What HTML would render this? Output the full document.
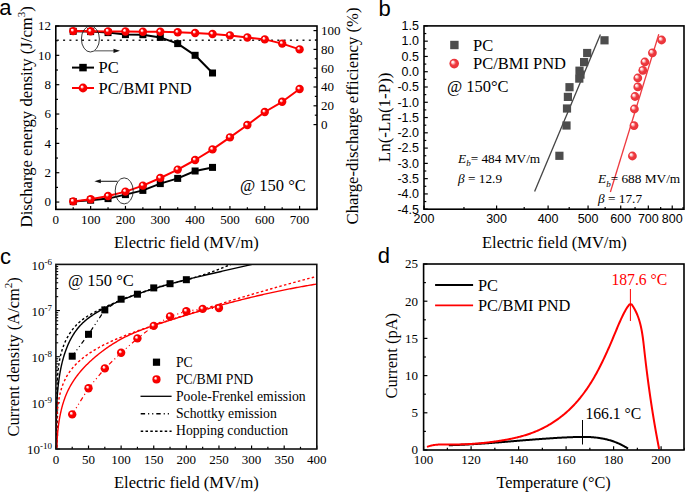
<!DOCTYPE html>
<html><head><meta charset="utf-8"><style>
html,body{margin:0;padding:0;background:#fff;}
svg{display:block;}
</style></head><body>
<svg width="685" height="492" viewBox="0 0 685 492">
<rect width="685" height="492" fill="#fff"/>
<defs>
<radialGradient id="ballA" cx="0.5" cy="0.5" r="0.5" fx="0.34" fy="0.32"><stop offset="0" stop-color="#ffffff"/><stop offset="0.18" stop-color="#ffe4e4"/><stop offset="0.44" stop-color="#ff0000"/><stop offset="1" stop-color="#f00000"/></radialGradient>
<radialGradient id="ballB" cx="0.5" cy="0.5" r="0.5" fx="0.3" fy="0.3"><stop offset="0" stop-color="#ffffff"/><stop offset="0.2" stop-color="#ffe4e4"/><stop offset="0.55" stop-color="#ef3a40"/><stop offset="1" stop-color="#e83238"/></radialGradient>
</defs>
<text x="-0.8" y="14.5" font-size="22" text-anchor="start" font-family="'Liberation Sans', sans-serif" fill="#000" >a</text>
<line x1="55.8" y1="202.06" x2="59.3" y2="202.06" stroke="#000" stroke-width="1.2" />
<line x1="55.8" y1="187.39" x2="58" y2="187.39" stroke="#000" stroke-width="1.2" />
<line x1="55.8" y1="172.72" x2="59.3" y2="172.72" stroke="#000" stroke-width="1.2" />
<line x1="55.8" y1="158.05" x2="58" y2="158.05" stroke="#000" stroke-width="1.2" />
<line x1="55.8" y1="143.38" x2="59.3" y2="143.38" stroke="#000" stroke-width="1.2" />
<line x1="55.8" y1="128.7" x2="58" y2="128.7" stroke="#000" stroke-width="1.2" />
<line x1="55.8" y1="114.03" x2="59.3" y2="114.03" stroke="#000" stroke-width="1.2" />
<line x1="55.8" y1="99.36" x2="58" y2="99.36" stroke="#000" stroke-width="1.2" />
<line x1="55.8" y1="84.69" x2="59.3" y2="84.69" stroke="#000" stroke-width="1.2" />
<line x1="55.8" y1="70.02" x2="58" y2="70.02" stroke="#000" stroke-width="1.2" />
<line x1="55.8" y1="55.34" x2="59.3" y2="55.34" stroke="#000" stroke-width="1.2" />
<line x1="55.8" y1="40.67" x2="58" y2="40.67" stroke="#000" stroke-width="1.2" />
<line x1="55.8" y1="26" x2="59.3" y2="26" stroke="#000" stroke-width="1.2" />
<text x="51" y="206.46" font-size="13" text-anchor="end" font-family="'Liberation Serif', serif" fill="#000" >0</text>
<text x="51" y="177.12" font-size="13" text-anchor="end" font-family="'Liberation Serif', serif" fill="#000" >2</text>
<text x="51" y="147.78" font-size="13" text-anchor="end" font-family="'Liberation Serif', serif" fill="#000" >4</text>
<text x="51" y="118.43" font-size="13" text-anchor="end" font-family="'Liberation Serif', serif" fill="#000" >6</text>
<text x="51" y="89.09" font-size="13" text-anchor="end" font-family="'Liberation Serif', serif" fill="#000" >8</text>
<text x="51" y="59.74" font-size="13" text-anchor="end" font-family="'Liberation Serif', serif" fill="#000" >10</text>
<text x="51" y="30.4" font-size="13" text-anchor="end" font-family="'Liberation Serif', serif" fill="#000" >12</text>
<line x1="55.8" y1="209.4" x2="55.8" y2="205.9" stroke="#000" stroke-width="1.2" />
<line x1="73.21" y1="209.4" x2="73.21" y2="207.2" stroke="#000" stroke-width="1.2" />
<line x1="90.63" y1="209.4" x2="90.63" y2="205.9" stroke="#000" stroke-width="1.2" />
<line x1="108.04" y1="209.4" x2="108.04" y2="207.2" stroke="#000" stroke-width="1.2" />
<line x1="125.45" y1="209.4" x2="125.45" y2="205.9" stroke="#000" stroke-width="1.2" />
<line x1="142.87" y1="209.4" x2="142.87" y2="207.2" stroke="#000" stroke-width="1.2" />
<line x1="160.28" y1="209.4" x2="160.28" y2="205.9" stroke="#000" stroke-width="1.2" />
<line x1="177.69" y1="209.4" x2="177.69" y2="207.2" stroke="#000" stroke-width="1.2" />
<line x1="195.11" y1="209.4" x2="195.11" y2="205.9" stroke="#000" stroke-width="1.2" />
<line x1="212.52" y1="209.4" x2="212.52" y2="207.2" stroke="#000" stroke-width="1.2" />
<line x1="229.93" y1="209.4" x2="229.93" y2="205.9" stroke="#000" stroke-width="1.2" />
<line x1="247.35" y1="209.4" x2="247.35" y2="207.2" stroke="#000" stroke-width="1.2" />
<line x1="264.76" y1="209.4" x2="264.76" y2="205.9" stroke="#000" stroke-width="1.2" />
<line x1="282.17" y1="209.4" x2="282.17" y2="207.2" stroke="#000" stroke-width="1.2" />
<line x1="299.59" y1="209.4" x2="299.59" y2="205.9" stroke="#000" stroke-width="1.2" />
<line x1="317" y1="209.4" x2="317" y2="207.2" stroke="#000" stroke-width="1.2" />
<text x="55.8" y="223.5" font-size="13" text-anchor="middle" font-family="'Liberation Serif', serif" fill="#000" >0</text>
<text x="90.63" y="223.5" font-size="13" text-anchor="middle" font-family="'Liberation Serif', serif" fill="#000" >100</text>
<text x="125.45" y="223.5" font-size="13" text-anchor="middle" font-family="'Liberation Serif', serif" fill="#000" >200</text>
<text x="160.28" y="223.5" font-size="13" text-anchor="middle" font-family="'Liberation Serif', serif" fill="#000" >300</text>
<text x="195.11" y="223.5" font-size="13" text-anchor="middle" font-family="'Liberation Serif', serif" fill="#000" >400</text>
<text x="229.93" y="223.5" font-size="13" text-anchor="middle" font-family="'Liberation Serif', serif" fill="#000" >500</text>
<text x="264.76" y="223.5" font-size="13" text-anchor="middle" font-family="'Liberation Serif', serif" fill="#000" >600</text>
<text x="299.59" y="223.5" font-size="13" text-anchor="middle" font-family="'Liberation Serif', serif" fill="#000" >700</text>
<line x1="317" y1="124.6" x2="313.5" y2="124.6" stroke="#000" stroke-width="1.2" />
<line x1="317" y1="115.2" x2="314.8" y2="115.2" stroke="#000" stroke-width="1.2" />
<line x1="317" y1="105.8" x2="313.5" y2="105.8" stroke="#000" stroke-width="1.2" />
<line x1="317" y1="96.4" x2="314.8" y2="96.4" stroke="#000" stroke-width="1.2" />
<line x1="317" y1="87" x2="313.5" y2="87" stroke="#000" stroke-width="1.2" />
<line x1="317" y1="77.6" x2="314.8" y2="77.6" stroke="#000" stroke-width="1.2" />
<line x1="317" y1="68.2" x2="313.5" y2="68.2" stroke="#000" stroke-width="1.2" />
<line x1="317" y1="58.8" x2="314.8" y2="58.8" stroke="#000" stroke-width="1.2" />
<line x1="317" y1="49.4" x2="313.5" y2="49.4" stroke="#000" stroke-width="1.2" />
<line x1="317" y1="40" x2="314.8" y2="40" stroke="#000" stroke-width="1.2" />
<line x1="317" y1="30.6" x2="313.5" y2="30.6" stroke="#000" stroke-width="1.2" />
<text x="321" y="129" font-size="13" text-anchor="start" font-family="'Liberation Serif', serif" fill="#000" >0</text>
<text x="321" y="110.2" font-size="13" text-anchor="start" font-family="'Liberation Serif', serif" fill="#000" >20</text>
<text x="321" y="91.4" font-size="13" text-anchor="start" font-family="'Liberation Serif', serif" fill="#000" >40</text>
<text x="321" y="72.6" font-size="13" text-anchor="start" font-family="'Liberation Serif', serif" fill="#000" >60</text>
<text x="321" y="53.8" font-size="13" text-anchor="start" font-family="'Liberation Serif', serif" fill="#000" >80</text>
<text x="321" y="35" font-size="13" text-anchor="start" font-family="'Liberation Serif', serif" fill="#000" >100</text>
<line x1="56.8" y1="40.2" x2="316" y2="40.2" stroke="#222" stroke-width="1.4" stroke-dasharray="2 4.3"/>
<polyline points="73.21,31.3 90.63,31.6 108.04,32.6 125.45,34.6 142.87,34.7 160.28,37.4 177.69,43.6 195.11,55.3 212.52,73" fill="none" stroke="#000" stroke-width="2" stroke-linejoin="round" />
<polyline points="73.21,201.6 90.63,200.2 108.04,198.6 125.45,194.6 142.87,190.4 160.28,183.6 177.69,178.4 195.11,171 212.52,167.4" fill="none" stroke="#000" stroke-width="2" stroke-linejoin="round" />
<rect x="69.71" y="27.8" width="7" height="7" fill="#000"/>
<rect x="87.13" y="28.1" width="7" height="7" fill="#000"/>
<rect x="104.54" y="29.1" width="7" height="7" fill="#000"/>
<rect x="121.95" y="31.1" width="7" height="7" fill="#000"/>
<rect x="139.37" y="31.2" width="7" height="7" fill="#000"/>
<rect x="156.78" y="33.9" width="7" height="7" fill="#000"/>
<rect x="174.19" y="40.1" width="7" height="7" fill="#000"/>
<rect x="191.61" y="51.8" width="7" height="7" fill="#000"/>
<rect x="209.02" y="69.5" width="7" height="7" fill="#000"/>
<rect x="69.71" y="198.1" width="7" height="7" fill="#000"/>
<rect x="87.13" y="196.7" width="7" height="7" fill="#000"/>
<rect x="104.54" y="195.1" width="7" height="7" fill="#000"/>
<rect x="121.95" y="191.1" width="7" height="7" fill="#000"/>
<rect x="139.37" y="186.9" width="7" height="7" fill="#000"/>
<rect x="156.78" y="180.1" width="7" height="7" fill="#000"/>
<rect x="174.19" y="174.9" width="7" height="7" fill="#000"/>
<rect x="191.61" y="167.5" width="7" height="7" fill="#000"/>
<rect x="209.02" y="163.9" width="7" height="7" fill="#000"/>
<polyline points="73.21,31.1 90.63,31.3 108.04,31.4 125.45,31.5 142.87,31.7 160.28,31.8 177.69,32.3 195.11,33 212.52,34 229.93,35.4 247.35,37.5 264.76,39.4 282.17,43.6 299.59,49.4" fill="none" stroke="#ff0000" stroke-width="2" stroke-linejoin="round" />
<polyline points="73.21,201.4 90.63,199.2 108.04,196 125.45,191.6 142.87,185.6 160.28,178 177.69,169.6 195.11,160 212.52,149.4 229.93,137.4 247.35,125 264.76,112 282.17,101.8 299.59,89" fill="none" stroke="#ff0000" stroke-width="2" stroke-linejoin="round" />
<circle cx="73.21" cy="31.1" r="4.2" fill="url(#ballA)"/>
<circle cx="90.63" cy="31.3" r="4.2" fill="url(#ballA)"/>
<circle cx="108.04" cy="31.4" r="4.2" fill="url(#ballA)"/>
<circle cx="125.45" cy="31.5" r="4.2" fill="url(#ballA)"/>
<circle cx="142.87" cy="31.7" r="4.2" fill="url(#ballA)"/>
<circle cx="160.28" cy="31.8" r="4.2" fill="url(#ballA)"/>
<circle cx="177.69" cy="32.3" r="4.2" fill="url(#ballA)"/>
<circle cx="195.11" cy="33" r="4.2" fill="url(#ballA)"/>
<circle cx="212.52" cy="34" r="4.2" fill="url(#ballA)"/>
<circle cx="229.93" cy="35.4" r="4.2" fill="url(#ballA)"/>
<circle cx="247.35" cy="37.5" r="4.2" fill="url(#ballA)"/>
<circle cx="264.76" cy="39.4" r="4.2" fill="url(#ballA)"/>
<circle cx="282.17" cy="43.6" r="4.2" fill="url(#ballA)"/>
<circle cx="299.59" cy="49.4" r="4.2" fill="url(#ballA)"/>
<circle cx="73.21" cy="201.4" r="4.2" fill="url(#ballA)"/>
<circle cx="90.63" cy="199.2" r="4.2" fill="url(#ballA)"/>
<circle cx="108.04" cy="196" r="4.2" fill="url(#ballA)"/>
<circle cx="125.45" cy="191.6" r="4.2" fill="url(#ballA)"/>
<circle cx="142.87" cy="185.6" r="4.2" fill="url(#ballA)"/>
<circle cx="160.28" cy="178" r="4.2" fill="url(#ballA)"/>
<circle cx="177.69" cy="169.6" r="4.2" fill="url(#ballA)"/>
<circle cx="195.11" cy="160" r="4.2" fill="url(#ballA)"/>
<circle cx="212.52" cy="149.4" r="4.2" fill="url(#ballA)"/>
<circle cx="229.93" cy="137.4" r="4.2" fill="url(#ballA)"/>
<circle cx="247.35" cy="125" r="4.2" fill="url(#ballA)"/>
<circle cx="264.76" cy="112" r="4.2" fill="url(#ballA)"/>
<circle cx="282.17" cy="101.8" r="4.2" fill="url(#ballA)"/>
<circle cx="299.59" cy="89" r="4.2" fill="url(#ballA)"/>
<rect x="55.8" y="26" width="261.2" height="183.4" fill="none" stroke="#000" stroke-width="1.6"/>
<ellipse cx="90.4" cy="39" rx="9" ry="13" fill="none" stroke="#222" stroke-width="0.9"/>
<line x1="94" y1="50.8" x2="115" y2="50.8" stroke="#777" stroke-width="1.3" />
<path d="M113.5,48.7 L120,50.8 L113.5,52.9 Z" fill="#111"/>
<ellipse cx="124.2" cy="190.9" rx="9" ry="13" fill="none" stroke="#222" stroke-width="0.9"/>
<line x1="117.5" y1="181.3" x2="99" y2="181.3" stroke="#222" stroke-width="1.1" />
<path d="M100.8,179.3 L94.4,181.3 L100.8,183.3 Z" fill="#111"/>
<line x1="72" y1="67.6" x2="94" y2="67.6" stroke="#000" stroke-width="2" />
<rect x="79.25" y="63.85" width="7.5" height="7.5" fill="#000"/>
<text x="98.5" y="73.5" font-size="16.5" text-anchor="start" font-family="'Liberation Serif', serif" fill="#000"  transform="matrix(1,0,0,1.06,0,-4.41)">PC</text>
<line x1="72" y1="88" x2="94" y2="88" stroke="#ff0000" stroke-width="2" />
<circle cx="83" cy="88" r="4.4" fill="url(#ballA)"/>
<text x="98.5" y="93.7" font-size="16.5" text-anchor="start" font-family="'Liberation Serif', serif" fill="#000"  transform="matrix(1,0,0,1.06,0,-5.62)">PC/BMI PND</text>
<text x="240" y="191" font-size="16.5" text-anchor="start" font-family="'Liberation Serif', serif" fill="#000" >@ 150 °C</text>
<text x="114" y="248.3" font-size="16.5" font-family="'Liberation Serif', serif">Electric field (MV/m)</text>
<text transform="translate(31.5,227.4) rotate(-90)" font-size="16.7" font-family="'Liberation Serif', serif">Discharge energy density (J/cm<tspan font-size="11" dy="-7">3</tspan><tspan dy="7">)</tspan></text>
<text transform="translate(357.8,224.4) rotate(-90)" font-size="16.7" font-family="'Liberation Serif', serif">Charge-discharge efficiency (%)</text>
<text x="378.6" y="16" font-size="22" text-anchor="start" font-family="'Liberation Sans', sans-serif" fill="#000" >b</text>
<line x1="424" y1="25.9" x2="427.8" y2="25.9" stroke="#000" stroke-width="1.2" />
<line x1="424" y1="33.54" x2="426.3" y2="33.54" stroke="#000" stroke-width="1.2" />
<line x1="424" y1="41.17" x2="427.8" y2="41.17" stroke="#000" stroke-width="1.2" />
<line x1="424" y1="48.81" x2="426.3" y2="48.81" stroke="#000" stroke-width="1.2" />
<line x1="424" y1="56.45" x2="427.8" y2="56.45" stroke="#000" stroke-width="1.2" />
<line x1="424" y1="64.09" x2="426.3" y2="64.09" stroke="#000" stroke-width="1.2" />
<line x1="424" y1="71.72" x2="427.8" y2="71.72" stroke="#000" stroke-width="1.2" />
<line x1="424" y1="79.36" x2="426.3" y2="79.36" stroke="#000" stroke-width="1.2" />
<line x1="424" y1="87" x2="427.8" y2="87" stroke="#000" stroke-width="1.2" />
<line x1="424" y1="94.64" x2="426.3" y2="94.64" stroke="#000" stroke-width="1.2" />
<line x1="424" y1="102.28" x2="427.8" y2="102.28" stroke="#000" stroke-width="1.2" />
<line x1="424" y1="109.91" x2="426.3" y2="109.91" stroke="#000" stroke-width="1.2" />
<line x1="424" y1="117.55" x2="427.8" y2="117.55" stroke="#000" stroke-width="1.2" />
<line x1="424" y1="125.19" x2="426.3" y2="125.19" stroke="#000" stroke-width="1.2" />
<line x1="424" y1="132.82" x2="427.8" y2="132.82" stroke="#000" stroke-width="1.2" />
<line x1="424" y1="140.46" x2="426.3" y2="140.46" stroke="#000" stroke-width="1.2" />
<line x1="424" y1="148.1" x2="427.8" y2="148.1" stroke="#000" stroke-width="1.2" />
<line x1="424" y1="155.74" x2="426.3" y2="155.74" stroke="#000" stroke-width="1.2" />
<line x1="424" y1="163.38" x2="427.8" y2="163.38" stroke="#000" stroke-width="1.2" />
<line x1="424" y1="171.01" x2="426.3" y2="171.01" stroke="#000" stroke-width="1.2" />
<line x1="424" y1="178.65" x2="427.8" y2="178.65" stroke="#000" stroke-width="1.2" />
<line x1="424" y1="186.29" x2="426.3" y2="186.29" stroke="#000" stroke-width="1.2" />
<line x1="424" y1="193.93" x2="427.8" y2="193.93" stroke="#000" stroke-width="1.2" />
<line x1="424" y1="201.56" x2="426.3" y2="201.56" stroke="#000" stroke-width="1.2" />
<line x1="424" y1="209.2" x2="427.8" y2="209.2" stroke="#000" stroke-width="1.2" />
<text x="419" y="30.2" font-size="12.5" text-anchor="end" font-family="'Liberation Sans', sans-serif" fill="#000" >1.5</text>
<text x="419" y="45.47" font-size="12.5" text-anchor="end" font-family="'Liberation Sans', sans-serif" fill="#000" >1.0</text>
<text x="419" y="60.75" font-size="12.5" text-anchor="end" font-family="'Liberation Sans', sans-serif" fill="#000" >0.5</text>
<text x="419" y="76.02" font-size="12.5" text-anchor="end" font-family="'Liberation Sans', sans-serif" fill="#000" >0.0</text>
<text x="419" y="91.3" font-size="12.5" text-anchor="end" font-family="'Liberation Sans', sans-serif" fill="#000" >-0.5</text>
<text x="419" y="106.58" font-size="12.5" text-anchor="end" font-family="'Liberation Sans', sans-serif" fill="#000" >-1.0</text>
<text x="419" y="121.85" font-size="12.5" text-anchor="end" font-family="'Liberation Sans', sans-serif" fill="#000" >-1.5</text>
<text x="419" y="137.12" font-size="12.5" text-anchor="end" font-family="'Liberation Sans', sans-serif" fill="#000" >-2.0</text>
<text x="419" y="152.4" font-size="12.5" text-anchor="end" font-family="'Liberation Sans', sans-serif" fill="#000" >-2.5</text>
<text x="419" y="167.68" font-size="12.5" text-anchor="end" font-family="'Liberation Sans', sans-serif" fill="#000" >-3.0</text>
<text x="419" y="182.95" font-size="12.5" text-anchor="end" font-family="'Liberation Sans', sans-serif" fill="#000" >-3.5</text>
<text x="419" y="198.23" font-size="12.5" text-anchor="end" font-family="'Liberation Sans', sans-serif" fill="#000" >-4.0</text>
<text x="419" y="213.5" font-size="12.5" text-anchor="end" font-family="'Liberation Sans', sans-serif" fill="#000" >-4.5</text>
<line x1="424" y1="209.2" x2="424" y2="205.4" stroke="#000" stroke-width="1.2" />
<line x1="463.96" y1="209.2" x2="463.96" y2="206.9" stroke="#000" stroke-width="1.2" />
<line x1="496.6" y1="209.2" x2="496.6" y2="205.4" stroke="#000" stroke-width="1.2" />
<line x1="524.2" y1="209.2" x2="524.2" y2="206.9" stroke="#000" stroke-width="1.2" />
<line x1="548.11" y1="209.2" x2="548.11" y2="205.4" stroke="#000" stroke-width="1.2" />
<line x1="569.2" y1="209.2" x2="569.2" y2="206.9" stroke="#000" stroke-width="1.2" />
<line x1="588.07" y1="209.2" x2="588.07" y2="205.4" stroke="#000" stroke-width="1.2" />
<line x1="605.14" y1="209.2" x2="605.14" y2="206.9" stroke="#000" stroke-width="1.2" />
<line x1="620.72" y1="209.2" x2="620.72" y2="205.4" stroke="#000" stroke-width="1.2" />
<line x1="635.05" y1="209.2" x2="635.05" y2="206.9" stroke="#000" stroke-width="1.2" />
<line x1="648.32" y1="209.2" x2="648.32" y2="205.4" stroke="#000" stroke-width="1.2" />
<line x1="660.67" y1="209.2" x2="660.67" y2="206.9" stroke="#000" stroke-width="1.2" />
<line x1="672.23" y1="209.2" x2="672.23" y2="205.4" stroke="#000" stroke-width="1.2" />
<line x1="683.08" y1="209.2" x2="683.08" y2="206.9" stroke="#000" stroke-width="1.2" />
<text x="424" y="223.2" font-size="12.5" text-anchor="middle" font-family="'Liberation Sans', sans-serif" fill="#000" >200</text>
<text x="496.6" y="223.2" font-size="12.5" text-anchor="middle" font-family="'Liberation Sans', sans-serif" fill="#000" >300</text>
<text x="548.11" y="223.2" font-size="12.5" text-anchor="middle" font-family="'Liberation Sans', sans-serif" fill="#000" >400</text>
<text x="588.07" y="223.2" font-size="12.5" text-anchor="middle" font-family="'Liberation Sans', sans-serif" fill="#000" >500</text>
<text x="620.72" y="223.2" font-size="12.5" text-anchor="middle" font-family="'Liberation Sans', sans-serif" fill="#000" >600</text>
<text x="648.32" y="223.2" font-size="12.5" text-anchor="middle" font-family="'Liberation Sans', sans-serif" fill="#000" >700</text>
<text x="672.23" y="223.2" font-size="12.5" text-anchor="middle" font-family="'Liberation Sans', sans-serif" fill="#000" >800</text>
<line x1="600.4" y1="34.4" x2="534.6" y2="191.6" stroke="#444" stroke-width="1.3" />
<line x1="658.8" y1="34.2" x2="610.4" y2="192" stroke="#ee3a40" stroke-width="1.3" />
<rect x="600.4" y="36.2" width="8.2" height="8.2" fill="#4d4d4d"/>
<rect x="583.1" y="48.9" width="8.2" height="8.2" fill="#4d4d4d"/>
<rect x="580" y="58" width="8.2" height="8.2" fill="#4d4d4d"/>
<rect x="575.4" y="66.6" width="8.2" height="8.2" fill="#4d4d4d"/>
<rect x="576.4" y="70.5" width="8.2" height="8.2" fill="#4d4d4d"/>
<rect x="575.2" y="74.5" width="8.2" height="8.2" fill="#4d4d4d"/>
<rect x="565.4" y="83.1" width="8.2" height="8.2" fill="#4d4d4d"/>
<rect x="563.8" y="92.8" width="8.2" height="8.2" fill="#4d4d4d"/>
<rect x="562.9" y="104.4" width="8.2" height="8.2" fill="#4d4d4d"/>
<rect x="562.4" y="121.4" width="8.2" height="8.2" fill="#4d4d4d"/>
<rect x="555.3" y="151.7" width="8.2" height="8.2" fill="#4d4d4d"/>
<circle cx="661.6" cy="40" r="4.4" fill="url(#ballB)"/>
<circle cx="652.4" cy="52.8" r="4.4" fill="url(#ballB)"/>
<circle cx="644.9" cy="62" r="4.4" fill="url(#ballB)"/>
<circle cx="642.8" cy="70.3" r="4.4" fill="url(#ballB)"/>
<circle cx="637.8" cy="78" r="4.4" fill="url(#ballB)"/>
<circle cx="637.8" cy="86.9" r="4.4" fill="url(#ballB)"/>
<circle cx="635" cy="96.5" r="4.4" fill="url(#ballB)"/>
<circle cx="634.4" cy="109" r="4.4" fill="url(#ballB)"/>
<circle cx="634" cy="125.6" r="4.4" fill="url(#ballB)"/>
<circle cx="632.4" cy="156" r="4.4" fill="url(#ballB)"/>
<rect x="424" y="25.9" width="260" height="183.3" fill="none" stroke="#000" stroke-width="1.6"/>
<rect x="450.2" y="40.8" width="8.4" height="8.4" fill="#4d4d4d"/>
<text x="473" y="50.6" font-size="16.5" text-anchor="start" font-family="'Liberation Serif', serif" fill="#000"  transform="matrix(1,0,0,1.07,0,-3.54)">PC</text>
<circle cx="454.2" cy="63.6" r="4.8" fill="url(#ballB)"/>
<text x="473" y="69.1" font-size="16.5" text-anchor="start" font-family="'Liberation Serif', serif" fill="#000"  transform="matrix(1,0,0,1.07,0,-4.84)">PC/BMI PND</text>
<text x="447" y="92" font-size="16.5" text-anchor="start" font-family="'Liberation Serif', serif" fill="#000"  transform="matrix(1,0,0,1.05,0,-4.6)">@ 150°C</text>
<text x="458" y="162.7" font-size="13.3" font-family="'Liberation Serif', serif"><tspan font-style="italic">E</tspan><tspan font-style="italic" font-size="9" dy="3.6">b</tspan><tspan dy="-3.6">= 484 MV/m</tspan></text>
<text x="458" y="182.7" font-size="13.3" font-family="'Liberation Serif', serif"><tspan font-style="italic">β</tspan> = 12.9</text>
<text x="598" y="183" font-size="13.3" font-family="'Liberation Serif', serif"><tspan font-style="italic">E</tspan><tspan font-style="italic" font-size="9" dy="3.6">b</tspan><tspan dy="-3.6">= 688 MV/m</tspan></text>
<text x="598" y="203" font-size="13.3" font-family="'Liberation Serif', serif"><tspan font-style="italic">β</tspan> = 17.7</text>
<text x="482" y="248.3" font-size="16.5" font-family="'Liberation Serif', serif">Electric field (MV/m)</text>
<text transform="translate(390.3,162.2) rotate(-90)" font-size="17" font-family="'Liberation Serif', serif">Ln(-Ln(1-P))</text>
<text x="0" y="263.8" font-size="22" text-anchor="start" font-family="'Liberation Sans', sans-serif" fill="#000" >c</text>
<line x1="55.9" y1="449" x2="59.9" y2="449" stroke="#000" stroke-width="1.1" />
<line x1="55.9" y1="435.11" x2="58.2" y2="435.11" stroke="#000" stroke-width="1.1" />
<line x1="55.9" y1="426.98" x2="58.2" y2="426.98" stroke="#000" stroke-width="1.1" />
<line x1="55.9" y1="421.21" x2="58.2" y2="421.21" stroke="#000" stroke-width="1.1" />
<line x1="55.9" y1="416.74" x2="58.2" y2="416.74" stroke="#000" stroke-width="1.1" />
<line x1="55.9" y1="413.09" x2="58.2" y2="413.09" stroke="#000" stroke-width="1.1" />
<line x1="55.9" y1="410" x2="58.2" y2="410" stroke="#000" stroke-width="1.1" />
<line x1="55.9" y1="407.32" x2="58.2" y2="407.32" stroke="#000" stroke-width="1.1" />
<line x1="55.9" y1="404.96" x2="58.2" y2="404.96" stroke="#000" stroke-width="1.1" />
<line x1="55.9" y1="402.85" x2="59.9" y2="402.85" stroke="#000" stroke-width="1.1" />
<line x1="55.9" y1="388.96" x2="58.2" y2="388.96" stroke="#000" stroke-width="1.1" />
<line x1="55.9" y1="380.83" x2="58.2" y2="380.83" stroke="#000" stroke-width="1.1" />
<line x1="55.9" y1="375.06" x2="58.2" y2="375.06" stroke="#000" stroke-width="1.1" />
<line x1="55.9" y1="370.59" x2="58.2" y2="370.59" stroke="#000" stroke-width="1.1" />
<line x1="55.9" y1="366.94" x2="58.2" y2="366.94" stroke="#000" stroke-width="1.1" />
<line x1="55.9" y1="363.85" x2="58.2" y2="363.85" stroke="#000" stroke-width="1.1" />
<line x1="55.9" y1="361.17" x2="58.2" y2="361.17" stroke="#000" stroke-width="1.1" />
<line x1="55.9" y1="358.81" x2="58.2" y2="358.81" stroke="#000" stroke-width="1.1" />
<line x1="55.9" y1="356.7" x2="59.9" y2="356.7" stroke="#000" stroke-width="1.1" />
<line x1="55.9" y1="342.81" x2="58.2" y2="342.81" stroke="#000" stroke-width="1.1" />
<line x1="55.9" y1="334.68" x2="58.2" y2="334.68" stroke="#000" stroke-width="1.1" />
<line x1="55.9" y1="328.91" x2="58.2" y2="328.91" stroke="#000" stroke-width="1.1" />
<line x1="55.9" y1="324.44" x2="58.2" y2="324.44" stroke="#000" stroke-width="1.1" />
<line x1="55.9" y1="320.79" x2="58.2" y2="320.79" stroke="#000" stroke-width="1.1" />
<line x1="55.9" y1="317.7" x2="58.2" y2="317.7" stroke="#000" stroke-width="1.1" />
<line x1="55.9" y1="315.02" x2="58.2" y2="315.02" stroke="#000" stroke-width="1.1" />
<line x1="55.9" y1="312.66" x2="58.2" y2="312.66" stroke="#000" stroke-width="1.1" />
<line x1="55.9" y1="310.55" x2="59.9" y2="310.55" stroke="#000" stroke-width="1.1" />
<line x1="55.9" y1="296.66" x2="58.2" y2="296.66" stroke="#000" stroke-width="1.1" />
<line x1="55.9" y1="288.53" x2="58.2" y2="288.53" stroke="#000" stroke-width="1.1" />
<line x1="55.9" y1="282.76" x2="58.2" y2="282.76" stroke="#000" stroke-width="1.1" />
<line x1="55.9" y1="278.29" x2="58.2" y2="278.29" stroke="#000" stroke-width="1.1" />
<line x1="55.9" y1="274.64" x2="58.2" y2="274.64" stroke="#000" stroke-width="1.1" />
<line x1="55.9" y1="271.55" x2="58.2" y2="271.55" stroke="#000" stroke-width="1.1" />
<line x1="55.9" y1="268.87" x2="58.2" y2="268.87" stroke="#000" stroke-width="1.1" />
<line x1="55.9" y1="266.51" x2="58.2" y2="266.51" stroke="#000" stroke-width="1.1" />
<text x="52" y="454.2" font-size="13" text-anchor="end" font-family="'Liberation Serif', serif">10<tspan font-size="9" dy="-4.8">-10</tspan></text>
<text x="52" y="408.05" font-size="13" text-anchor="end" font-family="'Liberation Serif', serif">10<tspan font-size="9" dy="-4.8">-9</tspan></text>
<text x="52" y="361.9" font-size="13" text-anchor="end" font-family="'Liberation Serif', serif">10<tspan font-size="9" dy="-4.8">-8</tspan></text>
<text x="52" y="315.75" font-size="13" text-anchor="end" font-family="'Liberation Serif', serif">10<tspan font-size="9" dy="-4.8">-7</tspan></text>
<text x="52" y="269.6" font-size="13" text-anchor="end" font-family="'Liberation Serif', serif">10<tspan font-size="9" dy="-4.8">-6</tspan></text>
<line x1="55.9" y1="449" x2="55.9" y2="445.5" stroke="#000" stroke-width="1.2" />
<line x1="72.21" y1="449" x2="72.21" y2="446.8" stroke="#000" stroke-width="1.2" />
<line x1="88.51" y1="449" x2="88.51" y2="445.5" stroke="#000" stroke-width="1.2" />
<line x1="104.82" y1="449" x2="104.82" y2="446.8" stroke="#000" stroke-width="1.2" />
<line x1="121.12" y1="449" x2="121.12" y2="445.5" stroke="#000" stroke-width="1.2" />
<line x1="137.43" y1="449" x2="137.43" y2="446.8" stroke="#000" stroke-width="1.2" />
<line x1="153.74" y1="449" x2="153.74" y2="445.5" stroke="#000" stroke-width="1.2" />
<line x1="170.04" y1="449" x2="170.04" y2="446.8" stroke="#000" stroke-width="1.2" />
<line x1="186.35" y1="449" x2="186.35" y2="445.5" stroke="#000" stroke-width="1.2" />
<line x1="202.66" y1="449" x2="202.66" y2="446.8" stroke="#000" stroke-width="1.2" />
<line x1="218.96" y1="449" x2="218.96" y2="445.5" stroke="#000" stroke-width="1.2" />
<line x1="235.27" y1="449" x2="235.27" y2="446.8" stroke="#000" stroke-width="1.2" />
<line x1="251.58" y1="449" x2="251.58" y2="445.5" stroke="#000" stroke-width="1.2" />
<line x1="267.88" y1="449" x2="267.88" y2="446.8" stroke="#000" stroke-width="1.2" />
<line x1="284.19" y1="449" x2="284.19" y2="445.5" stroke="#000" stroke-width="1.2" />
<line x1="300.49" y1="449" x2="300.49" y2="446.8" stroke="#000" stroke-width="1.2" />
<line x1="316.8" y1="449" x2="316.8" y2="445.5" stroke="#000" stroke-width="1.2" />
<text x="55.9" y="463.5" font-size="13" text-anchor="middle" font-family="'Liberation Serif', serif" fill="#000" >0</text>
<text x="88.51" y="463.5" font-size="13" text-anchor="middle" font-family="'Liberation Serif', serif" fill="#000" >50</text>
<text x="121.12" y="463.5" font-size="13" text-anchor="middle" font-family="'Liberation Serif', serif" fill="#000" >100</text>
<text x="153.74" y="463.5" font-size="13" text-anchor="middle" font-family="'Liberation Serif', serif" fill="#000" >150</text>
<text x="186.35" y="463.5" font-size="13" text-anchor="middle" font-family="'Liberation Serif', serif" fill="#000" >200</text>
<text x="218.96" y="463.5" font-size="13" text-anchor="middle" font-family="'Liberation Serif', serif" fill="#000" >250</text>
<text x="251.58" y="463.5" font-size="13" text-anchor="middle" font-family="'Liberation Serif', serif" fill="#000" >300</text>
<text x="284.19" y="463.5" font-size="13" text-anchor="middle" font-family="'Liberation Serif', serif" fill="#000" >350</text>
<text x="316.8" y="463.5" font-size="13" text-anchor="middle" font-family="'Liberation Serif', serif" fill="#000" >400</text>
<clipPath id="clipC"><rect x="55.9" y="264.4" width="260.9" height="184.6"/></clipPath>
<g clip-path="url(#clipC)">
<path d="M56.77,452.27 L56.74,450.87 L56.70,449.47 L56.66,448.07 L56.63,446.67 L56.60,445.27 L56.57,443.88 L56.54,442.49 L56.51,441.09 L56.48,439.70 L56.46,438.32 L56.44,436.93 L56.42,435.55 L56.40,434.16 L56.39,432.78 L56.38,431.41 L56.37,430.03 L56.36,428.66 L56.36,427.29 L56.35,425.93 L56.36,424.56 L56.36,423.20 L56.37,421.85 L56.38,420.49 L56.39,419.14 L56.41,417.80 L56.43,416.45 L56.46,415.11 L56.48,413.78 L56.52,412.44 L56.55,411.12 L56.59,409.79 L56.64,408.47 L56.68,407.15 L56.74,405.84 L56.79,404.53 L56.85,403.23 L56.92,401.93 L56.99,400.64 L57.06,399.35 L57.14,398.06 L57.23,396.78 L57.32,395.51 L57.41,394.24 L57.51,392.97 L57.62,391.71 L57.73,390.46 L57.84,389.21 L57.96,387.96 L58.09,386.73 L58.22,385.49 L58.36,384.27 L58.50,383.05 L58.66,381.83 L58.81,380.63 L58.97,379.42 L59.14,378.23 L59.32,377.04 L59.50,375.86 L59.69,374.68 L59.88,373.51 L60.08,372.35 L60.29,371.19 L60.51,370.04 L60.73,368.90 L60.96,367.76 L61.20,366.64 L61.44,365.52 L61.69,364.40 L61.95,363.30 L62.22,362.20 L62.49,361.11 L62.77,360.03 L63.06,358.95 L63.36,357.89 L63.67,356.83 L63.98,355.78 L64.30,354.73 L64.63,353.70 L64.97,352.67 L65.32,351.66 L65.68,350.65 L66.04,349.65 L66.42,348.66 L66.80,347.68 L67.19,346.70 L67.59,345.74 L68.00,344.78 L68.42,343.84 L68.85,342.90 L69.29,341.98 L69.73,341.06 L70.19,340.15 L70.66,339.25 L71.13,338.37 L71.62,337.49 L72.12,336.62 L72.62,335.76 L73.14,334.91 L73.67,334.08 L74.20,333.25 L74.75,332.43 L75.31,331.63 L75.88,330.83 L76.46,330.05 L77.05,329.27 L77.65,328.51 L78.27,327.76 L78.89,327.02 L79.53,326.29 L80.17,325.57 L80.83,324.87 L81.50,324.17 L82.18,323.49 L82.87,322.81 L83.58,322.15 L84.29,321.51 L85.02,320.87 L85.76,320.24 L86.50,319.62 L87.26,319.02 L88.03,318.42 L88.81,317.83 L89.59,317.25 L90.39,316.68 L91.19,316.12 L92.00,315.57 L92.82,315.02 L93.64,314.48 L94.47,313.95 L95.31,313.42 L96.16,312.90 L97.01,312.39 L97.86,311.88 L98.73,311.38 L99.59,310.88 L100.46,310.39 L101.34,309.90 L102.22,309.41 L103.10,308.93 L103.99,308.45 L104.88,307.98 L105.78,307.51 L106.68,307.05 L107.58,306.59 L108.49,306.13 L109.40,305.68 L110.32,305.23 L111.24,304.79 L112.16,304.35 L113.09,303.91 L114.02,303.47 L114.96,303.04 L115.89,302.62 L116.83,302.19 L117.78,301.77 L118.73,301.36 L119.68,300.95 L120.64,300.54 L121.59,300.13 L122.56,299.73 L123.52,299.33 L124.49,298.93 L125.46,298.54 L126.44,298.15 L127.41,297.76 L128.39,297.38 L129.38,297.00 L130.37,296.62 L131.36,296.25 L132.35,295.87 L133.34,295.51 L134.34,295.14 L135.34,294.78 L136.35,294.41 L137.35,294.06 L138.36,293.70 L139.37,293.35 L140.39,293.00 L141.40,292.65 L142.42,292.30 L143.45,291.96 L144.47,291.62 L145.50,291.28 L146.52,290.95 L147.56,290.61 L148.59,290.28 L149.62,289.95 L150.66,289.63 L151.70,289.30 L152.74,288.98 L153.79,288.66 L154.83,288.34 L155.88,288.02 L156.93,287.71 L157.98,287.39 L159.03,287.08 L160.09,286.77 L161.15,286.46 L162.20,286.16 L163.26,285.85 L164.33,285.55 L165.39,285.25 L166.46,284.95 L167.52,284.65 L168.59,284.36 L169.66,284.06 L170.73,283.77 L171.81,283.48 L172.88,283.19 L173.96,282.90 L175.03,282.61 L176.11,282.33 L177.19,282.04 L178.28,281.76 L179.36,281.48 L180.44,281.20 L181.53,280.92 L182.61,280.64 L183.70,280.37 L184.79,280.09 L185.88,279.82 L186.97,279.54 L188.06,279.27 L189.16,279.00 L190.25,278.73 L191.35,278.46 L192.44,278.19 L193.54,277.92 L194.64,277.66 L195.74,277.39 L196.84,277.13 L197.94,276.86 L199.04,276.60 L200.14,276.34 L201.24,276.07 L202.35,275.81 L203.45,275.55 L204.55,275.29 L205.66,275.03 L206.77,274.77 L207.87,274.52 L208.98,274.26 L210.09,274.00 L211.19,273.74 L212.30,273.49 L213.41,273.23 L214.52,272.98 L215.63,272.72 L216.74,272.46 L217.85,272.21 L218.96,271.96 L220.07,271.70 L221.18,271.45 L222.29,271.19 L223.40,270.94 L224.51,270.68 L225.62,270.43 L226.73,270.18 L227.84,269.92 L228.95,269.67 L230.06,269.42 L231.17,269.16 L232.28,268.91 L233.39,268.65 L234.50,268.40 L235.61,268.14 L236.72,267.89 L237.83,267.63 L238.94,267.38 L240.05,267.12 L241.16,266.87 L242.27,266.61 L243.38,266.35 L244.48,266.10 L245.59,265.84 L246.70,265.58 L247.80,265.32 L248.91,265.06 L250.01,264.80 L251.12,264.54 L252.22,264.28 L253.32,264.02 L254.42,263.76 L255.53,263.49 L256.63,263.23 L257.73,262.96 L258.82,262.70 L259.92,262.43 L261.02,262.16 L262.12,261.90 L263.21,261.63 L264.31,261.36 L265.40,261.09 L266.49,260.81 L267.58,260.54 L268.67,260.27 L269.76,259.99 L270.85,259.71 L271.94,259.44" fill="none" stroke="#000" stroke-width="1.4"/>
<path d="M56.34,451.94 L56.43,450.75 L56.51,449.56 L56.59,448.36 L56.66,447.15 L56.72,445.93 L56.78,444.71 L56.83,443.49 L56.88,442.26 L56.92,441.02 L56.96,439.78 L56.99,438.54 L57.02,437.29 L57.05,436.03 L57.07,434.78 L57.08,433.51 L57.10,432.25 L57.10,430.98 L57.11,429.71 L57.11,428.43 L57.12,427.16 L57.11,425.88 L57.11,424.60 L57.10,423.31 L57.10,422.03 L57.09,420.74 L57.08,419.45 L57.07,418.16 L57.05,416.87 L57.04,415.58 L57.03,414.29 L57.02,413.00 L57.00,411.71 L56.99,410.42 L56.98,409.13 L56.97,407.84 L56.96,406.55 L56.95,405.26 L56.94,403.98 L56.93,402.69 L56.93,401.41 L56.92,400.13 L56.92,398.85 L56.93,397.58 L56.93,396.30 L56.94,395.03 L56.95,393.77 L56.97,392.51 L56.99,391.25 L57.01,389.99 L57.04,388.74 L57.07,387.49 L57.10,386.25 L57.14,385.01 L57.19,383.78 L57.24,382.55 L57.30,381.33 L57.36,380.12 L57.43,378.91 L57.50,377.70 L57.58,376.51 L57.67,375.32 L57.76,374.13 L57.87,372.96 L57.97,371.79 L58.09,370.62 L58.21,369.47 L58.35,368.32 L58.49,367.19 L58.63,366.06 L58.79,364.94 L58.96,363.82 L59.13,362.72 L59.32,361.63 L59.51,360.54 L59.71,359.47 L59.93,358.41 L60.15,357.35 L60.39,356.31 L60.63,355.28 L60.89,354.25 L61.15,353.24 L61.43,352.24 L61.71,351.24 L62.01,350.26 L62.32,349.29 L62.63,348.33 L62.96,347.38 L63.30,346.44 L63.65,345.51 L64.00,344.59 L64.37,343.68 L64.75,342.78 L65.14,341.89 L65.54,341.02 L65.95,340.15 L66.37,339.29 L66.81,338.45 L67.25,337.61 L67.70,336.79 L68.16,335.97 L68.64,335.17 L69.12,334.37 L69.62,333.59 L70.12,332.82 L70.64,332.06 L71.17,331.31 L71.71,330.57 L72.25,329.84 L72.81,329.12 L73.38,328.41 L73.96,327.71 L74.55,327.03 L75.15,326.35 L75.77,325.68 L76.39,325.03 L77.02,324.39 L77.67,323.75 L78.32,323.13 L78.99,322.52 L79.67,321.92 L80.36,321.33 L81.05,320.75 L81.76,320.18 L82.48,319.62 L83.22,319.08 L83.96,318.54 L84.71,318.01 L85.47,317.50 L86.24,316.99 L87.02,316.49 L87.81,316.00 L88.60,315.52 L89.41,315.04 L90.22,314.57 L91.03,314.11 L91.85,313.66 L92.68,313.20 L93.51,312.76 L94.35,312.32 L95.19,311.88 L96.03,311.44 L96.88,311.01 L97.73,310.59 L98.58,310.16 L99.44,309.74 L100.29,309.32 L101.15,308.90 L102.02,308.48 L102.88,308.07 L103.75,307.66 L104.62,307.25 L105.49,306.84 L106.36,306.44 L107.24,306.04 L108.12,305.64 L109.00,305.24 L109.88,304.84 L110.76,304.45 L111.65,304.06 L112.54,303.67 L113.43,303.29 L114.33,302.90 L115.22,302.52 L116.12,302.14 L117.02,301.77 L117.93,301.39 L118.83,301.02 L119.74,300.65 L120.65,300.28 L121.56,299.91 L122.48,299.55 L123.39,299.19 L124.31,298.83 L125.23,298.47 L126.15,298.12 L127.08,297.76 L128.01,297.41 L128.94,297.07 L129.87,296.72 L130.80,296.38 L131.74,296.03 L132.68,295.69 L133.62,295.36 L134.56,295.02 L135.50,294.69 L136.45,294.36 L137.40,294.03 L138.35,293.70 L139.30,293.38 L140.26,293.05 L141.22,292.73 L142.18,292.41 L143.14,292.10 L144.10,291.78 L145.07,291.47 L146.03,291.16 L147.00,290.85 L147.98,290.55 L148.95,290.24 L149.93,289.94 L150.90,289.64 L151.88,289.34 L152.87,289.05 L153.85,288.75 L154.84,288.46 L155.83,288.17 L156.82,287.89 L157.81,287.60 L158.80,287.31 L159.80,287.03 L160.79,286.75 L161.79,286.47 L162.79,286.19 L163.79,285.91 L164.79,285.64 L165.79,285.36 L166.80,285.09 L167.80,284.81 L168.81,284.54 L169.81,284.27 L170.82,284.00 L171.82,283.72 L172.83,283.45 L173.84,283.18 L174.84,282.91 L175.85,282.64 L176.86,282.37 L177.86,282.10 L178.87,281.83 L179.88,281.55 L180.88,281.28 L181.89,281.01 L182.89,280.74 L183.90,280.46 L184.90,280.19 L185.90,279.91 L186.90,279.63 L187.90,279.36 L188.90,279.08 L189.90,278.80 L190.89,278.51 L191.89,278.23 L192.88,277.94 L193.87,277.66 L194.86,277.37 L195.85,277.08 L196.83,276.79 L197.82,276.49 L198.80,276.19 L199.78,275.90 L200.75,275.59 L201.73,275.29 L202.70,274.98 L203.67,274.67 L204.63,274.36 L205.60,274.05 L206.56,273.73 L207.51,273.41 L208.47,273.08 L209.42,272.76 L210.37,272.43 L211.31,272.09 L212.25,271.76 L213.19,271.42 L214.12,271.07 L215.06,270.73 L215.98,270.38 L216.91,270.03 L217.84,269.67 L218.76,269.32 L219.68,268.96 L220.59,268.60 L221.51,268.23 L222.42,267.87 L223.33,267.50 L224.24,267.13 L225.15,266.76 L226.06,266.39 L226.96,266.02 L227.86,265.64 L228.77,265.27 L229.67,264.89 L230.57,264.51 L231.47,264.14 L232.37,263.76 L233.26,263.38 L234.16,263.00 L235.06,262.62 L235.96,262.24 L236.85,261.86 L237.75,261.47 L238.65,261.09 L239.55,260.71 L240.44,260.33 L241.34,259.95 L242.24,259.57 L243.14,259.20 L244.04,258.82 L244.94,258.44" fill="none" stroke="#000" stroke-width="1.4" stroke-dasharray="2.5 2.3"/>
<path d="M72.21,356.20 L88.51,334.30 L104.82,309.90 L121.12,299.20 L137.43,294.20 L153.74,287.90 L170.04,283.70 L186.35,279.70" fill="none" stroke="#000" stroke-width="1.2" stroke-dasharray="4.4 3 1.1 3 1.1 3"/>
<path d="M56.67,452.17 L56.70,450.77 L56.73,449.37 L56.77,447.98 L56.82,446.60 L56.87,445.22 L56.93,443.85 L56.99,442.48 L57.06,441.12 L57.14,439.77 L57.23,438.43 L57.32,437.09 L57.42,435.76 L57.52,434.44 L57.64,433.12 L57.76,431.81 L57.89,430.51 L58.03,429.22 L58.17,427.93 L58.32,426.66 L58.48,425.39 L58.65,424.13 L58.83,422.87 L59.01,421.63 L59.21,420.39 L59.41,419.16 L59.62,417.94 L59.84,416.73 L60.07,415.53 L60.30,414.34 L60.55,413.16 L60.80,411.98 L61.07,410.82 L61.34,409.66 L61.62,408.51 L61.92,407.38 L62.22,406.25 L62.53,405.13 L62.85,404.02 L63.19,402.93 L63.53,401.84 L63.88,400.76 L64.24,399.69 L64.62,398.64 L65.00,397.59 L65.40,396.56 L65.80,395.53 L66.22,394.52 L66.64,393.51 L67.08,392.52 L67.53,391.54 L67.99,390.57 L68.45,389.61 L68.93,388.66 L69.42,387.71 L69.92,386.78 L70.43,385.86 L70.95,384.95 L71.47,384.05 L72.01,383.15 L72.56,382.27 L73.11,381.39 L73.67,380.53 L74.25,379.67 L74.83,378.82 L75.42,377.98 L76.01,377.15 L76.62,376.32 L77.23,375.51 L77.85,374.70 L78.48,373.90 L79.12,373.11 L79.76,372.32 L80.42,371.54 L81.08,370.77 L81.74,370.01 L82.41,369.25 L83.09,368.50 L83.78,367.76 L84.47,367.02 L85.17,366.29 L85.88,365.57 L86.59,364.85 L87.31,364.14 L88.03,363.43 L88.76,362.73 L89.49,362.03 L90.23,361.34 L90.98,360.66 L91.73,359.98 L92.48,359.30 L93.24,358.63 L94.01,357.97 L94.78,357.31 L95.55,356.65 L96.33,356.00 L97.11,355.35 L97.90,354.71 L98.69,354.07 L99.48,353.44 L100.28,352.81 L101.09,352.18 L101.90,351.56 L102.71,350.95 L103.53,350.34 L104.36,349.73 L105.18,349.13 L106.02,348.53 L106.86,347.94 L107.70,347.36 L108.55,346.78 L109.40,346.20 L110.26,345.63 L111.13,345.06 L112.00,344.50 L112.87,343.95 L113.75,343.40 L114.64,342.85 L115.53,342.31 L116.42,341.78 L117.32,341.25 L118.23,340.73 L119.14,340.21 L120.06,339.70 L120.99,339.19 L121.91,338.69 L122.85,338.20 L123.79,337.71 L124.74,337.23 L125.69,336.75 L126.65,336.28 L127.61,335.82 L128.58,335.36 L129.56,334.90 L130.54,334.45 L131.53,334.01 L132.52,333.57 L133.52,333.14 L134.52,332.71 L135.53,332.29 L136.54,331.87 L137.56,331.46 L138.58,331.05 L139.60,330.65 L140.63,330.24 L141.66,329.85 L142.70,329.45 L143.74,329.06 L144.78,328.68 L145.83,328.30 L146.88,327.92 L147.94,327.54 L148.99,327.17 L150.05,326.80 L151.11,326.43 L152.18,326.06 L153.24,325.70 L154.31,325.34 L155.38,324.98 L156.46,324.62 L157.53,324.27 L158.61,323.91 L159.68,323.56 L160.76,323.21 L161.84,322.86 L162.92,322.51 L164.01,322.17 L165.09,321.82 L166.17,321.47 L167.26,321.13 L168.34,320.78 L169.43,320.44 L170.51,320.09 L171.60,319.75 L172.69,319.41 L173.78,319.07 L174.86,318.72 L175.95,318.38 L177.04,318.04 L178.13,317.70 L179.22,317.37 L180.31,317.03 L181.41,316.69 L182.50,316.35 L183.59,316.02 L184.69,315.68 L185.78,315.35 L186.88,315.01 L187.98,314.68 L189.07,314.35 L190.17,314.01 L191.27,313.68 L192.37,313.35 L193.47,313.02 L194.57,312.69 L195.67,312.37 L196.77,312.04 L197.88,311.71 L198.98,311.39 L200.09,311.06 L201.19,310.74 L202.30,310.42 L203.41,310.09 L204.51,309.77 L205.62,309.45 L206.73,309.13 L207.84,308.81 L208.96,308.49 L210.07,308.18 L211.18,307.86 L212.30,307.55 L213.41,307.23 L214.53,306.92 L215.65,306.61 L216.76,306.29 L217.88,305.98 L219.00,305.67 L220.12,305.36 L221.25,305.06 L222.37,304.75 L223.49,304.44 L224.62,304.14 L225.74,303.84 L226.87,303.53 L228.00,303.23 L229.13,302.93 L230.26,302.63 L231.39,302.33 L232.52,302.04 L233.66,301.74 L234.79,301.44 L235.92,301.15 L237.06,300.86 L238.20,300.56 L239.34,300.27 L240.48,299.98 L241.62,299.69 L242.76,299.41 L243.90,299.12 L245.05,298.83 L246.19,298.55 L247.34,298.27 L248.49,297.99 L249.64,297.71 L250.79,297.43 L251.94,297.15 L253.09,296.87 L254.25,296.59 L255.40,296.32 L256.56,296.05 L257.72,295.77 L258.88,295.50 L260.04,295.23 L261.20,294.97 L262.36,294.70 L263.52,294.43 L264.69,294.17 L265.86,293.91 L267.02,293.64 L268.19,293.38 L269.36,293.12 L270.54,292.87 L271.71,292.61 L272.88,292.36 L274.06,292.10 L275.24,291.85 L276.42,291.60 L277.60,291.35 L278.78,291.10 L279.96,290.85 L281.15,290.61 L282.33,290.36 L283.52,290.12 L284.71,289.88 L285.90,289.64 L287.09,289.40 L288.28,289.17 L289.48,288.93 L290.67,288.70 L291.87,288.47 L293.07,288.23 L294.27,288.01 L295.47,287.78 L296.68,287.55 L297.88,287.33 L299.09,287.10 L300.30,286.88 L301.50,286.66 L302.72,286.44 L303.93,286.23 L305.14,286.01 L306.36,285.80 L307.58,285.59 L308.80,285.38 L310.02,285.17 L311.24,284.96 L312.46,284.75 L313.69,284.55 L314.92,284.35 L316.15,284.15" fill="none" stroke="#ff0000" stroke-width="1.4"/>
<path d="M56.83,452.33 L56.78,450.82 L56.73,449.32 L56.69,447.82 L56.64,446.32 L56.60,444.83 L56.57,443.34 L56.54,441.85 L56.51,440.37 L56.49,438.89 L56.47,437.42 L56.46,435.95 L56.45,434.49 L56.44,433.03 L56.45,431.58 L56.46,430.13 L56.47,428.69 L56.49,427.26 L56.52,425.83 L56.56,424.41 L56.60,423.00 L56.65,421.59 L56.71,420.19 L56.77,418.81 L56.85,417.42 L56.93,416.05 L57.02,414.69 L57.13,413.34 L57.24,411.99 L57.36,410.66 L57.49,409.33 L57.63,408.02 L57.78,406.71 L57.94,405.42 L58.11,404.13 L58.29,402.86 L58.49,401.60 L58.70,400.35 L58.91,399.12 L59.14,397.89 L59.39,396.68 L59.64,395.48 L59.91,394.30 L60.20,393.12 L60.49,391.97 L60.80,390.82 L61.13,389.69 L61.47,388.57 L61.82,387.47 L62.19,386.38 L62.57,385.31 L62.97,384.26 L63.38,383.22 L63.82,382.19 L64.26,381.18 L64.72,380.19 L65.20,379.21 L65.69,378.25 L66.20,377.30 L66.72,376.37 L67.26,375.45 L67.81,374.55 L68.38,373.66 L68.96,372.78 L69.55,371.92 L70.16,371.07 L70.78,370.24 L71.41,369.41 L72.06,368.60 L72.71,367.81 L73.38,367.02 L74.07,366.25 L74.76,365.49 L75.46,364.74 L76.18,364.00 L76.91,363.27 L77.65,362.55 L78.40,361.85 L79.16,361.15 L79.93,360.47 L80.71,359.79 L81.50,359.13 L82.30,358.47 L83.10,357.82 L83.92,357.19 L84.75,356.56 L85.58,355.94 L86.42,355.32 L87.28,354.72 L88.13,354.12 L89.00,353.53 L89.87,352.95 L90.76,352.38 L91.64,351.81 L92.54,351.25 L93.44,350.70 L94.35,350.15 L95.26,349.61 L96.18,349.07 L97.11,348.54 L98.04,348.02 L98.97,347.50 L99.91,346.98 L100.86,346.48 L101.81,345.97 L102.77,345.48 L103.73,344.98 L104.70,344.49 L105.67,344.01 L106.65,343.53 L107.63,343.06 L108.62,342.59 L109.61,342.13 L110.60,341.66 L111.60,341.21 L112.60,340.76 L113.61,340.31 L114.62,339.86 L115.64,339.42 L116.65,338.99 L117.68,338.56 L118.70,338.13 L119.73,337.70 L120.77,337.28 L121.80,336.86 L122.84,336.44 L123.88,336.03 L124.93,335.62 L125.98,335.21 L127.03,334.81 L128.08,334.41 L129.14,334.01 L130.20,333.61 L131.26,333.22 L132.32,332.83 L133.39,332.44 L134.45,332.05 L135.52,331.66 L136.60,331.28 L137.67,330.90 L138.74,330.52 L139.82,330.14 L140.90,329.76 L141.98,329.39 L143.06,329.01 L144.14,328.64 L145.23,328.27 L146.31,327.90 L147.40,327.53 L148.48,327.16 L149.57,326.79 L150.66,326.42 L151.74,326.06 L152.83,325.69 L153.92,325.32 L155.01,324.96 L156.10,324.59 L157.19,324.23 L158.28,323.86 L159.37,323.50 L160.46,323.13 L161.55,322.77 L162.64,322.40 L163.74,322.04 L164.83,321.68 L165.92,321.32 L167.01,320.95 L168.11,320.59 L169.20,320.23 L170.30,319.87 L171.39,319.51 L172.48,319.15 L173.58,318.79 L174.68,318.43 L175.77,318.07 L176.87,317.71 L177.96,317.35 L179.06,316.99 L180.16,316.64 L181.26,316.28 L182.35,315.92 L183.45,315.57 L184.55,315.21 L185.65,314.85 L186.75,314.50 L187.85,314.14 L188.95,313.79 L190.05,313.43 L191.15,313.08 L192.26,312.73 L193.36,312.37 L194.46,312.02 L195.56,311.67 L196.67,311.32 L197.77,310.96 L198.87,310.61 L199.98,310.26 L201.08,309.91 L202.19,309.56 L203.29,309.21 L204.40,308.86 L205.51,308.51 L206.61,308.17 L207.72,307.82 L208.83,307.47 L209.94,307.12 L211.04,306.78 L212.15,306.43 L213.26,306.08 L214.37,305.74 L215.48,305.39 L216.59,305.05 L217.70,304.71 L218.82,304.36 L219.93,304.02 L221.04,303.68 L222.15,303.33 L223.27,302.99 L224.38,302.65 L225.49,302.31 L226.61,301.97 L227.72,301.63 L228.84,301.29 L229.95,300.95 L231.07,300.61 L232.19,300.27 L233.30,299.93 L234.42,299.60 L235.54,299.26 L236.66,298.92 L237.78,298.59 L238.90,298.25 L240.02,297.91 L241.14,297.58 L242.26,297.24 L243.38,296.91 L244.50,296.58 L245.62,296.24 L246.75,295.91 L247.87,295.58 L248.99,295.25 L250.12,294.92 L251.24,294.59 L252.37,294.26 L253.49,293.93 L254.62,293.60 L255.74,293.27 L256.87,292.94 L258.00,292.61 L259.12,292.28 L260.25,291.96 L261.38,291.63 L262.51,291.30 L263.64,290.98 L264.77,290.65 L265.90,290.33 L267.03,290.01 L268.16,289.68 L269.30,289.36 L270.43,289.04 L271.56,288.71 L272.70,288.39 L273.83,288.07 L274.96,287.75 L276.10,287.43 L277.24,287.11 L278.37,286.79 L279.51,286.47 L280.65,286.16 L281.78,285.84 L282.92,285.52 L284.06,285.20 L285.20,284.89 L286.34,284.57 L287.48,284.26 L288.62,283.94 L289.76,283.63 L290.90,283.32 L292.04,283.00 L293.19,282.69 L294.33,282.38 L295.47,282.07 L296.62,281.76 L297.76,281.45 L298.91,281.14 L300.06,280.83 L301.20,280.52 L302.35,280.21 L303.50,279.90 L304.65,279.60 L305.79,279.29 L306.94,278.98 L308.09,278.68 L309.24,278.37 L310.39,278.07 L311.55,277.77 L312.70,277.46 L313.85,277.16 L315.00,276.86 L316.16,276.56" fill="none" stroke="#ff0000" stroke-width="1.4" stroke-dasharray="2.5 2.3"/>
<path d="M72.21,414.40 L88.51,388.20 L104.82,368.40 L121.12,352.80 L137.43,338.40 L153.74,325.90 L170.04,316.40 L186.35,311.20 L202.66,308.90 L218.96,308.00" fill="none" stroke="#ff0000" stroke-width="1.2" stroke-dasharray="4.4 3 1.1 3 1.1 3"/>
</g>
<rect x="68.71" y="352.7" width="7" height="7" fill="#000"/>
<rect x="85.01" y="330.8" width="7" height="7" fill="#000"/>
<rect x="101.32" y="306.4" width="7" height="7" fill="#000"/>
<rect x="117.62" y="295.7" width="7" height="7" fill="#000"/>
<rect x="133.93" y="290.7" width="7" height="7" fill="#000"/>
<rect x="150.24" y="284.4" width="7" height="7" fill="#000"/>
<rect x="166.54" y="280.2" width="7" height="7" fill="#000"/>
<rect x="182.85" y="276.2" width="7" height="7" fill="#000"/>
<circle cx="72.21" cy="414.4" r="4.2" fill="url(#ballA)"/>
<circle cx="88.51" cy="388.2" r="4.2" fill="url(#ballA)"/>
<circle cx="104.82" cy="368.4" r="4.2" fill="url(#ballA)"/>
<circle cx="121.12" cy="352.8" r="4.2" fill="url(#ballA)"/>
<circle cx="137.43" cy="338.4" r="4.2" fill="url(#ballA)"/>
<circle cx="153.74" cy="325.9" r="4.2" fill="url(#ballA)"/>
<circle cx="170.04" cy="316.4" r="4.2" fill="url(#ballA)"/>
<circle cx="186.35" cy="311.2" r="4.2" fill="url(#ballA)"/>
<circle cx="202.66" cy="308.9" r="4.2" fill="url(#ballA)"/>
<circle cx="218.96" cy="308" r="4.2" fill="url(#ballA)"/>
<rect x="55.9" y="264.4" width="260.9" height="184.6" fill="none" stroke="#111" stroke-width="1.6"/>
<text x="68" y="286" font-size="16.5" text-anchor="start" font-family="'Liberation Serif', serif" fill="#000"  transform="matrix(1,0,0,1.05,0,-14.3)">@ 150 °C</text>
<rect x="152.9" y="358.6" width="7.2" height="7.2" fill="#000"/>
<text x="176" y="366.5" font-size="13.7" text-anchor="start" font-family="'Liberation Serif', serif" fill="#000" >PC</text>
<circle cx="156.5" cy="379.4" r="4.1" fill="url(#ballA)"/>
<text x="176" y="384" font-size="13.7" text-anchor="start" font-family="'Liberation Serif', serif" fill="#000" >PC/BMI PND</text>
<line x1="140.5" y1="396.3" x2="171.6" y2="396.3" stroke="#000" stroke-width="1.3" />
<text x="176" y="401" font-size="13.7" text-anchor="start" font-family="'Liberation Serif', serif" fill="#000" >Poole-Frenkel emission</text>
<line x1="140.7" y1="413.7" x2="171.6" y2="413.7" stroke="#000" stroke-width="1.4" stroke-dasharray="4.4 3 1.1 3 1.1 3"/>
<text x="176" y="418.3" font-size="13.7" text-anchor="start" font-family="'Liberation Serif', serif" fill="#000" >Schottky emission</text>
<line x1="140.7" y1="431.2" x2="171.6" y2="431.2" stroke="#000" stroke-width="1.4" stroke-dasharray="2.5 2.3"/>
<text x="176" y="435.1" font-size="13.7" text-anchor="start" font-family="'Liberation Serif', serif" fill="#000" >Hopping conduction</text>
<text x="114" y="488" font-size="16.5" font-family="'Liberation Serif', serif">Electric field (MV/m)</text>
<text transform="translate(18.5,436.6) rotate(-90)" font-size="16.5" font-family="'Liberation Serif', serif">Current density (A/cm<tspan font-size="11" dy="-7">2</tspan><tspan dy="7">)</tspan></text>
<text x="377.8" y="262.5" font-size="22" text-anchor="start" font-family="'Liberation Sans', sans-serif" fill="#000" >d</text>
<line x1="423.6" y1="450" x2="427.4" y2="450" stroke="#000" stroke-width="1.2" />
<line x1="423.6" y1="431.4" x2="425.9" y2="431.4" stroke="#000" stroke-width="1.2" />
<line x1="423.6" y1="412.8" x2="427.4" y2="412.8" stroke="#000" stroke-width="1.2" />
<line x1="423.6" y1="394.2" x2="425.9" y2="394.2" stroke="#000" stroke-width="1.2" />
<line x1="423.6" y1="375.6" x2="427.4" y2="375.6" stroke="#000" stroke-width="1.2" />
<line x1="423.6" y1="357" x2="425.9" y2="357" stroke="#000" stroke-width="1.2" />
<line x1="423.6" y1="338.4" x2="427.4" y2="338.4" stroke="#000" stroke-width="1.2" />
<line x1="423.6" y1="319.8" x2="425.9" y2="319.8" stroke="#000" stroke-width="1.2" />
<line x1="423.6" y1="301.2" x2="427.4" y2="301.2" stroke="#000" stroke-width="1.2" />
<line x1="423.6" y1="282.6" x2="425.9" y2="282.6" stroke="#000" stroke-width="1.2" />
<line x1="423.6" y1="264" x2="427.4" y2="264" stroke="#000" stroke-width="1.2" />
<text x="418" y="454.4" font-size="13" text-anchor="end" font-family="'Liberation Serif', serif" fill="#000" >0</text>
<text x="418" y="417.2" font-size="13" text-anchor="end" font-family="'Liberation Serif', serif" fill="#000" >5</text>
<text x="418" y="380" font-size="13" text-anchor="end" font-family="'Liberation Serif', serif" fill="#000" >10</text>
<text x="418" y="342.8" font-size="13" text-anchor="end" font-family="'Liberation Serif', serif" fill="#000" >15</text>
<text x="418" y="305.6" font-size="13" text-anchor="end" font-family="'Liberation Serif', serif" fill="#000" >20</text>
<text x="418" y="268.4" font-size="13" text-anchor="end" font-family="'Liberation Serif', serif" fill="#000" >25</text>
<line x1="423.6" y1="450" x2="423.6" y2="446.2" stroke="#000" stroke-width="1.2" />
<line x1="447.35" y1="450" x2="447.35" y2="447.7" stroke="#000" stroke-width="1.2" />
<line x1="471.1" y1="450" x2="471.1" y2="446.2" stroke="#000" stroke-width="1.2" />
<line x1="494.85" y1="450" x2="494.85" y2="447.7" stroke="#000" stroke-width="1.2" />
<line x1="518.6" y1="450" x2="518.6" y2="446.2" stroke="#000" stroke-width="1.2" />
<line x1="542.35" y1="450" x2="542.35" y2="447.7" stroke="#000" stroke-width="1.2" />
<line x1="566.1" y1="450" x2="566.1" y2="446.2" stroke="#000" stroke-width="1.2" />
<line x1="589.85" y1="450" x2="589.85" y2="447.7" stroke="#000" stroke-width="1.2" />
<line x1="613.6" y1="450" x2="613.6" y2="446.2" stroke="#000" stroke-width="1.2" />
<line x1="637.35" y1="450" x2="637.35" y2="447.7" stroke="#000" stroke-width="1.2" />
<line x1="661.1" y1="450" x2="661.1" y2="446.2" stroke="#000" stroke-width="1.2" />
<line x1="684.85" y1="450" x2="684.85" y2="447.7" stroke="#000" stroke-width="1.2" />
<text x="423.6" y="463.5" font-size="13" text-anchor="middle" font-family="'Liberation Serif', serif" fill="#000" >100</text>
<text x="471.1" y="463.5" font-size="13" text-anchor="middle" font-family="'Liberation Serif', serif" fill="#000" >120</text>
<text x="518.6" y="463.5" font-size="13" text-anchor="middle" font-family="'Liberation Serif', serif" fill="#000" >140</text>
<text x="566.1" y="463.5" font-size="13" text-anchor="middle" font-family="'Liberation Serif', serif" fill="#000" >160</text>
<text x="613.6" y="463.5" font-size="13" text-anchor="middle" font-family="'Liberation Serif', serif" fill="#000" >180</text>
<text x="661.1" y="463.5" font-size="13" text-anchor="middle" font-family="'Liberation Serif', serif" fill="#000" >200</text>
<path d="M448.80,445.25 L449.55,445.23 L450.30,445.21 L451.05,445.19 L451.80,445.16 L452.55,445.14 L453.30,445.12 L454.05,445.09 L454.80,445.06 L455.55,445.04 L456.30,445.01 L457.05,444.98 L457.80,444.95 L458.55,444.92 L459.30,444.89 L460.05,444.85 L460.80,444.82 L461.55,444.79 L462.30,444.75 L463.05,444.72 L463.80,444.68 L464.55,444.64 L465.30,444.61 L466.05,444.57 L466.80,444.53 L467.55,444.49 L468.30,444.45 L469.05,444.41 L469.80,444.36 L470.55,444.32 L471.30,444.28 L472.05,444.23 L472.80,444.19 L473.55,444.14 L474.30,444.10 L475.05,444.05 L475.80,444.01 L476.55,443.96 L477.30,443.91 L478.05,443.86 L478.80,443.81 L479.55,443.76 L480.30,443.71 L481.05,443.66 L481.80,443.61 L482.55,443.56 L483.30,443.51 L484.05,443.45 L484.80,443.40 L485.55,443.35 L486.30,443.29 L487.05,443.24 L487.80,443.19 L488.55,443.13 L489.30,443.07 L490.05,443.02 L490.80,442.96 L491.55,442.91 L492.30,442.85 L493.05,442.79 L493.80,442.73 L494.55,442.68 L495.30,442.62 L496.05,442.56 L496.80,442.50 L497.55,442.44 L498.30,442.38 L499.05,442.32 L499.80,442.27 L500.55,442.21 L501.30,442.15 L502.05,442.09 L502.80,442.02 L503.55,441.96 L504.30,441.90 L505.05,441.84 L505.80,441.78 L506.55,441.72 L507.30,441.66 L508.05,441.60 L508.80,441.54 L509.55,441.47 L510.30,441.41 L511.05,441.35 L511.80,441.29 L512.55,441.23 L513.30,441.17 L514.05,441.10 L514.80,441.04 L515.55,440.98 L516.30,440.92 L517.05,440.86 L517.80,440.80 L518.55,440.73 L519.30,440.67 L520.05,440.61 L520.80,440.55 L521.55,440.49 L522.30,440.43 L523.05,440.37 L523.80,440.30 L524.55,440.24 L525.30,440.18 L526.05,440.12 L526.80,440.06 L527.55,440.00 L528.30,439.94 L529.05,439.88 L529.80,439.82 L530.55,439.76 L531.30,439.70 L532.05,439.64 L532.80,439.59 L533.55,439.53 L534.30,439.47 L535.05,439.41 L535.80,439.35 L536.55,439.30 L537.30,439.24 L538.05,439.18 L538.80,439.13 L539.55,439.07 L540.30,439.02 L541.05,438.96 L541.80,438.91 L542.55,438.85 L543.30,438.80 L544.05,438.74 L544.80,438.69 L545.55,438.64 L546.30,438.59 L547.05,438.53 L547.80,438.48 L548.55,438.43 L549.30,438.38 L550.05,438.33 L550.80,438.28 L551.55,438.23 L552.30,438.19 L553.05,438.14 L553.80,438.09 L554.55,438.04 L555.30,438.00 L556.05,437.95 L556.80,437.91 L557.55,437.86 L558.30,437.82 L559.05,437.78 L559.80,437.74 L560.55,437.69 L561.30,437.65 L562.05,437.61 L562.80,437.57 L563.55,437.54 L564.30,437.50 L565.05,437.46 L565.80,437.42 L566.55,437.39 L567.30,437.35 L568.05,437.32 L568.80,437.29 L569.55,437.25 L570.30,437.22 L571.05,437.19 L571.80,437.16 L572.55,437.13 L573.30,437.10 L574.05,437.08 L574.80,437.05 L575.55,437.03 L576.30,437.00 L577.05,436.98 L577.80,436.97 L578.55,436.95 L579.30,436.94 L580.05,436.92 L580.80,436.92 L581.55,436.91 L582.30,436.91 L583.05,436.91 L583.80,436.91 L584.55,436.92 L585.30,436.93 L586.05,436.94 L586.80,436.96 L587.55,436.99 L588.30,437.01 L589.05,437.04 L589.80,437.08 L590.55,437.12 L591.30,437.17 L592.05,437.22 L592.80,437.27 L593.55,437.33 L594.30,437.40 L595.05,437.47 L595.80,437.55 L596.55,437.63 L597.30,437.72 L598.05,437.82 L598.80,437.92 L599.55,438.03 L600.30,438.15 L601.05,438.27 L601.80,438.40 L602.55,438.53 L603.30,438.68 L604.05,438.83 L604.80,438.99 L605.55,439.16 L606.30,439.33 L607.05,439.52 L607.80,439.71 L608.55,439.91 L609.30,440.12 L610.05,440.33 L610.80,440.56 L611.55,440.79 L612.30,441.04 L613.05,441.29 L613.80,441.56 L614.55,441.83 L615.30,442.11 L616.05,442.41 L616.80,442.71 L617.55,443.02 L618.30,443.35 L619.05,443.68 L619.80,444.03 L620.55,444.38 L621.30,444.75 L622.05,445.13 L622.80,445.52 L623.55,445.92 L624.30,446.33 L625.05,446.76 L625.80,447.20 L626.55,447.65 L627.30,448.11 L628.05,448.58" fill="none" stroke="#000" stroke-width="2" stroke-linejoin="round"/>
<path d="M427.00,446.91 L427.75,446.63 L428.50,446.36 L429.25,446.12 L430.00,445.90 L430.75,445.70 L431.50,445.52 L432.25,445.36 L433.00,445.21 L433.75,445.08 L434.50,444.97 L435.25,444.87 L436.00,444.78 L436.75,444.71 L437.50,444.65 L438.25,444.59 L439.00,444.55 L439.75,444.52 L440.50,444.50 L441.25,444.48 L442.00,444.47 L442.75,444.46 L443.50,444.46 L444.25,444.47 L445.00,444.47 L445.75,444.48 L446.50,444.49 L447.25,444.50 L448.00,444.51 L448.75,444.51 L449.50,444.52 L450.25,444.52 L451.00,444.52 L451.75,444.52 L452.50,444.52 L453.25,444.52 L454.00,444.52 L454.75,444.51 L455.50,444.50 L456.25,444.49 L457.00,444.48 L457.75,444.47 L458.50,444.45 L459.25,444.43 L460.00,444.42 L460.75,444.40 L461.50,444.37 L462.25,444.35 L463.00,444.32 L463.75,444.30 L464.50,444.27 L465.25,444.24 L466.00,444.21 L466.75,444.17 L467.50,444.13 L468.25,444.10 L469.00,444.06 L469.75,444.02 L470.50,443.97 L471.25,443.93 L472.00,443.88 L472.75,443.83 L473.50,443.78 L474.25,443.73 L475.00,443.67 L475.75,443.62 L476.50,443.56 L477.25,443.50 L478.00,443.44 L478.75,443.38 L479.50,443.31 L480.25,443.24 L481.00,443.17 L481.75,443.10 L482.50,443.03 L483.25,442.95 L484.00,442.88 L484.75,442.80 L485.50,442.72 L486.25,442.64 L487.00,442.55 L487.75,442.46 L488.50,442.38 L489.25,442.29 L490.00,442.19 L490.75,442.10 L491.50,442.00 L492.25,441.90 L493.00,441.80 L493.75,441.70 L494.50,441.60 L495.25,441.49 L496.00,441.38 L496.75,441.27 L497.50,441.16 L498.25,441.05 L499.00,440.93 L499.75,440.81 L500.50,440.69 L501.25,440.57 L502.00,440.44 L502.75,440.32 L503.50,440.19 L504.25,440.06 L505.00,439.93 L505.75,439.79 L506.50,439.65 L507.25,439.51 L508.00,439.37 L508.75,439.23 L509.50,439.08 L510.25,438.93 L511.00,438.78 L511.75,438.62 L512.50,438.46 L513.25,438.30 L514.00,438.13 L514.75,437.96 L515.50,437.79 L516.25,437.62 L517.00,437.44 L517.75,437.25 L518.50,437.06 L519.25,436.87 L520.00,436.68 L520.75,436.48 L521.50,436.27 L522.25,436.06 L523.00,435.85 L523.75,435.63 L524.50,435.41 L525.25,435.18 L526.00,434.95 L526.75,434.71 L527.50,434.47 L528.25,434.22 L529.00,433.97 L529.75,433.71 L530.50,433.45 L531.25,433.18 L532.00,432.90 L532.75,432.62 L533.50,432.33 L534.25,432.04 L535.00,431.74 L535.75,431.43 L536.50,431.12 L537.25,430.80 L538.00,430.47 L538.75,430.14 L539.50,429.80 L540.25,429.46 L541.00,429.11 L541.75,428.75 L542.50,428.38 L543.25,428.00 L544.00,427.62 L544.75,427.23 L545.50,426.84 L546.25,426.43 L547.00,426.02 L547.75,425.60 L548.50,425.17 L549.25,424.73 L550.00,424.29 L550.75,423.84 L551.50,423.38 L552.25,422.91 L553.00,422.43 L553.75,421.94 L554.50,421.45 L555.25,420.94 L556.00,420.43 L556.75,419.90 L557.50,419.37 L558.25,418.83 L559.00,418.28 L559.75,417.72 L560.50,417.15 L561.25,416.57 L562.00,415.98 L562.75,415.38 L563.50,414.77 L564.25,414.15 L565.00,413.51 L565.75,412.87 L566.50,412.21 L567.25,411.55 L568.00,410.87 L568.75,410.17 L569.50,409.47 L570.25,408.75 L571.00,408.02 L571.75,407.27 L572.50,406.51 L573.25,405.74 L574.00,404.95 L574.75,404.15 L575.50,403.33 L576.25,402.50 L577.00,401.65 L577.75,400.78 L578.50,399.90 L579.25,399.01 L580.00,398.09 L580.75,397.16 L581.50,396.21 L582.25,395.25 L583.00,394.26 L583.75,393.26 L584.50,392.24 L585.25,391.20 L586.00,390.14 L586.75,389.06 L587.50,387.96 L588.25,386.85 L589.00,385.71 L589.75,384.55 L590.50,383.37 L591.25,382.17 L592.00,380.95 L592.75,379.71 L593.50,378.44 L594.25,377.16 L595.00,375.85 L595.75,374.52 L596.50,373.16 L597.25,371.78 L598.00,370.38 L598.75,368.96 L599.50,367.51 L600.25,366.04 L601.00,364.55 L601.75,363.03 L602.50,361.50 L603.25,359.94 L604.00,358.37 L604.75,356.77 L605.50,355.16 L606.25,353.52 L607.00,351.87 L607.75,350.19 L608.50,348.50 L609.25,346.80 L610.00,345.07 L610.75,343.33 L611.50,341.57 L612.25,339.79 L613.00,338.00 L613.75,336.20 L614.50,334.40 L615.25,332.59 L616.00,330.78 L616.75,328.99 L617.50,327.20 L618.25,325.44 L619.00,323.70 L619.75,321.98 L620.50,320.30 L621.25,318.66 L622.00,317.05 L622.75,315.50 L623.50,313.99 L624.25,312.54 L625.00,311.16 L625.75,309.83 L626.50,308.58 L627.25,307.41 L628.00,306.31 L629.30,304.50 L630.50,304.20 L631.80,304.50 L633.37,307.00 L633.96,308.00 L634.52,309.00 L635.06,310.00 L635.57,311.00 L636.06,312.00 L636.52,313.00 L636.96,314.00 L637.38,315.00 L637.77,316.00 L638.15,317.00 L638.50,318.00 L638.84,319.00 L639.16,320.00 L639.46,321.00 L639.75,322.00 L640.02,323.00 L640.28,324.00 L640.52,325.00 L640.76,326.00 L640.98,327.00 L641.19,328.00 L641.40,329.00 L641.59,330.00 L641.78,331.00 L641.95,332.00 L642.12,333.00 L642.29,334.00 L642.44,335.00 L642.59,336.00 L642.74,337.00 L642.88,338.00 L643.01,339.00 L643.14,340.00 L643.26,341.00 L643.39,342.00 L643.51,343.00 L643.62,344.00 L643.74,345.00 L643.85,346.00 L643.96,347.00 L644.07,348.00 L644.18,349.00 L644.29,350.00 L644.40,351.00 L644.51,352.00 L644.62,353.00 L644.74,354.00 L644.85,355.00 L644.97,356.00 L645.08,357.00 L645.20,358.00 L645.31,359.00 L645.43,360.00 L645.55,361.00 L645.66,362.00 L645.78,363.00 L645.90,364.00 L646.02,365.00 L646.14,366.00 L646.27,367.00 L646.39,368.00 L646.51,369.00 L646.64,370.00 L646.76,371.00 L646.89,372.00 L647.01,373.00 L647.14,374.00 L647.27,375.00 L647.40,376.00 L647.52,377.00 L647.65,378.00 L647.79,379.00 L647.92,380.00 L648.05,381.00 L648.18,382.00 L648.32,383.00 L648.45,384.00 L648.59,385.00 L648.72,386.00 L648.86,387.00 L649.00,388.00 L649.14,389.00 L649.28,390.00 L649.42,391.00 L649.56,392.00 L649.70,393.00 L649.84,394.00 L649.99,395.00 L650.13,396.00 L650.28,397.00 L650.42,398.00 L650.57,399.00 L650.72,400.00 L650.87,401.00 L651.02,402.00 L651.17,403.00 L651.32,404.00 L651.47,405.00 L651.63,406.00 L651.78,407.00 L651.93,408.00 L652.09,409.00 L652.25,410.00 L652.41,411.00 L652.56,412.00 L652.72,413.00 L652.88,414.00 L653.05,415.00 L653.21,416.00 L653.37,417.00 L653.54,418.00 L653.70,419.00 L653.87,420.00 L654.04,421.00 L654.20,422.00 L654.37,423.00 L654.54,424.00 L654.72,425.00 L654.89,426.00 L655.06,427.00 L655.23,428.00 L655.41,429.00 L655.59,430.00 L655.76,431.00 L655.94,432.00 L656.12,433.00 L656.30,434.00 L656.48,435.00 L656.67,436.00 L656.85,437.00 L657.03,438.00 L657.22,439.00 L657.40,440.00 L657.59,441.00 L657.78,442.00 L657.97,443.00 L658.16,444.00 L658.35,445.00 L658.55,446.00 L658.74,447.00 L658.94,448.00 L659.13,449.00" fill="none" stroke="#ff0000" stroke-width="2" stroke-linejoin="round"/>
<rect x="423.6" y="264" width="260.4" height="186" fill="none" stroke="#000" stroke-width="1.6"/>
<line x1="435.1" y1="284.9" x2="473.1" y2="284.9" stroke="#000" stroke-width="2" />
<text x="478" y="290.6" font-size="16.4" text-anchor="start" font-family="'Liberation Serif', serif" fill="#000"  transform="matrix(1,0,0,1.07,0,-20.34)">PC</text>
<line x1="435.1" y1="305.4" x2="473.1" y2="305.4" stroke="#ff0000" stroke-width="1.7" />
<text x="478" y="310.6" font-size="16.4" text-anchor="start" font-family="'Liberation Serif', serif" fill="#000"  transform="matrix(1,0,0,1.07,0,-21.74)">PC/BMI PND</text>
<text x="611.4" y="284.6" font-size="15.7" text-anchor="start" font-family="'Liberation Serif', serif" fill="#ff0000"  transform="matrix(1,0,0,1.03,0,-8.54)">187.6 °C</text>
<line x1="630.4" y1="289" x2="630.4" y2="321" stroke="#ff0000" stroke-width="1" />
<text x="585.4" y="419" font-size="15.7" text-anchor="start" font-family="'Liberation Serif', serif" fill="#000"  transform="matrix(1,0,0,1.06,0,-25.14)">166.1 °C</text>
<line x1="582.5" y1="420" x2="582.5" y2="444.5" stroke="#000" stroke-width="1" />
<text x="496.4" y="487.8" font-size="16.3" font-family="'Liberation Serif', serif">Temperature (°C)</text>
<text transform="translate(396.5,398.6) rotate(-90)" font-size="16.5" font-family="'Liberation Serif', serif">Current (pA)</text>
</svg>
</body></html>
